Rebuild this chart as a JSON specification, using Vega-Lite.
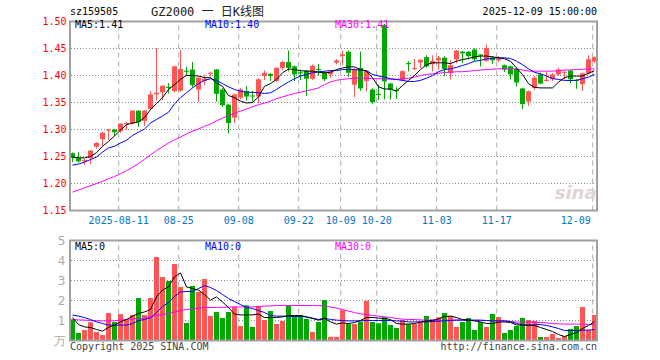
{
"$schema":"https://vega.github.io/schema/vega-lite/v6.json",
"width":527,"height":320,
"autosize":{"type":"none"},
"padding":{"left":70,"top":21,"right":63,"bottom":19},
"background":"white",
"config":{"view":{"stroke":null},"font":"DejaVu Sans Mono","scale":{"continuousPadding":0}},
"datasets":{
"k":[
{"i":0,"o":1.256,"h":1.257,"l":1.240,"c":1.247,"v":1.05,"m5":1.249,"m10":1.234,"m30":1.184,"vm5":1.15,"vm10":1.27,"vm30":1.05},
{"i":1,"o":1.247,"h":1.258,"l":1.239,"c":1.241,"v":0.37,"m5":1.2475,"m10":1.236,"m30":1.188,"vm5":0.8,"vm10":1.22,"vm30":1.03},
{"i":2,"o":1.241,"h":1.245,"l":1.235,"c":1.244,"v":0.52,"m5":1.2475,"m10":1.2395,"m30":1.192,"vm5":0.68,"vm10":1.15,"vm30":1.02},
{"i":3,"o":1.247,"h":1.262,"l":1.236,"c":1.261,"v":0.9,"m5":1.25,"m10":1.2444,"m30":1.196,"vm5":0.65,"vm10":1.05,"vm30":1.0},
{"i":4,"o":1.268,"h":1.276,"l":1.265,"c":1.275,"v":0.42,"m5":1.257,"m10":1.249,"m30":1.2,"vm5":0.55,"vm10":0.93,"vm30":0.99},
{"i":5,"o":1.282,"h":1.295,"l":1.27,"c":1.294,"v":0.27,"m5":1.269,"m10":1.258,"m30":1.204,"vm5":0.47,"vm10":0.85,"vm30":0.98},
{"i":6,"o":1.298,"h":1.3,"l":1.281,"c":1.3,"v":1.37,"m5":1.278,"m10":1.266,"m30":1.209,"vm5":0.65,"vm10":0.77,"vm30":0.98},
{"i":7,"o":1.3,"h":1.3,"l":1.289,"c":1.295,"v":0.92,"m5":1.288,"m10":1.269,"m30":1.213,"vm5":0.77,"vm10":0.77,"vm30":0.99},
{"i":8,"o":1.297,"h":1.311,"l":1.294,"c":1.311,"v":1.32,"m5":1.299,"m10":1.275,"m30":1.218,"vm5":0.93,"vm10":0.77,"vm30":1.02},
{"i":9,"o":1.31,"h":1.313,"l":1.3,"c":1.312,"v":1.02,"m5":1.309,"m10":1.28,"m30":1.224,"vm5":1.05,"vm10":0.77,"vm30":1.05},
{"i":10,"o":1.311,"h":1.335,"l":1.31,"c":1.335,"v":1.27,"m5":1.312,"m10":1.289,"m30":1.23,"vm5":1.22,"vm10":0.85,"vm30":1.08},
{"i":11,"o":1.335,"h":1.335,"l":1.305,"c":1.314,"v":2.12,"m5":1.314,"m10":1.295,"m30":1.237,"vm5":1.35,"vm10":1.0,"vm30":1.1},
{"i":12,"o":1.316,"h":1.335,"l":1.307,"c":1.335,"v":1.27,"m5":1.322,"m10":1.301,"m30":1.245,"vm5":1.43,"vm10":1.05,"vm30":1.13},
{"i":13,"o":1.338,"h":1.371,"l":1.336,"c":1.365,"v":2.12,"m5":1.337,"m10":1.312,"m30":1.253,"vm5":1.55,"vm10":1.13,"vm30":1.18},
{"i":14,"o":1.365,"h":1.451,"l":1.354,"c":1.368,"v":4.17,"m5":1.348,"m10":1.3185,"m30":1.261,"vm5":2.18,"vm10":1.4,"vm30":1.25},
{"i":15,"o":1.369,"h":1.381,"l":1.355,"c":1.381,"v":3.17,"m5":1.359,"m10":1.325,"m30":1.268,"vm5":2.52,"vm10":1.7,"vm30":1.3},
{"i":16,"o":1.379,"h":1.385,"l":1.367,"c":1.377,"v":2.97,"m5":1.374,"m10":1.332,"m30":1.275,"vm5":2.68,"vm10":1.9,"vm30":1.35},
{"i":17,"o":1.371,"h":1.418,"l":1.369,"c":1.417,"v":3.82,"m5":1.383,"m10":1.3475,"m30":1.281,"vm5":3.18,"vm10":2.2,"vm30":1.42},
{"i":18,"o":1.372,"h":1.447,"l":1.37,"c":1.412,"v":2.67,"m5":1.393,"m10":1.359,"m30":1.286,"vm5":3.38,"vm10":2.43,"vm30":1.5},
{"i":19,"o":1.409,"h":1.416,"l":1.4,"c":1.407,"v":0.87,"m5":1.4,"m10":1.368,"m30":1.292,"vm5":2.68,"vm10":2.45,"vm30":1.55},
{"i":20,"o":1.411,"h":1.425,"l":1.378,"c":1.382,"v":2.72,"m5":1.4,"m10":1.377,"m30":1.297,"vm5":2.6,"vm10":2.45,"vm30":1.58},
{"i":21,"o":1.374,"h":1.397,"l":1.351,"c":1.396,"v":2.42,"m5":1.399,"m10":1.385,"m30":1.301,"vm5":2.52,"vm10":2.6,"vm30":1.62},
{"i":22,"o":1.39,"h":1.4,"l":1.382,"c":1.394,"v":3.07,"m5":1.396,"m10":1.391,"m30":1.306,"vm5":2.3,"vm10":2.75,"vm30":1.65},
{"i":23,"o":1.403,"h":1.407,"l":1.398,"c":1.405,"v":1.22,"m5":1.396,"m10":1.394,"m30":1.31,"vm5":2.02,"vm10":2.65,"vm30":1.65},
{"i":24,"o":1.411,"h":1.412,"l":1.352,"c":1.366,"v":1.42,"m5":1.386,"m10":1.391,"m30":1.316,"vm5":2.18,"vm10":2.5,"vm30":1.65},
{"i":25,"o":1.374,"h":1.376,"l":1.342,"c":1.345,"v":1.12,"m5":1.38,"m10":1.385,"m30":1.321,"vm5":1.93,"vm10":2.3,"vm30":1.66},
{"i":26,"o":1.346,"h":1.347,"l":1.293,"c":1.312,"v":1.42,"m5":1.363,"m10":1.379,"m30":1.326,"vm5":1.65,"vm10":2.1,"vm30":1.67},
{"i":27,"o":1.322,"h":1.366,"l":1.312,"c":1.365,"v":1.67,"m5":1.359,"m10":1.374,"m30":1.33,"vm5":1.32,"vm10":1.95,"vm30":1.68},
{"i":28,"o":1.359,"h":1.376,"l":1.356,"c":1.374,"v":0.72,"m5":1.3525,"m10":1.371,"m30":1.334,"vm5":1.28,"vm10":1.8,"vm30":1.68},
{"i":29,"o":1.371,"h":1.38,"l":1.354,"c":1.361,"v":1.75,"m5":1.349,"m10":1.369,"m30":1.338,"vm5":1.28,"vm10":1.65,"vm30":1.68},
{"i":30,"o":1.363,"h":1.371,"l":1.352,"c":1.361,"v":0.67,"m5":1.35,"m10":1.369,"m30":1.342,"vm5":1.28,"vm10":1.6,"vm30":1.68},
{"i":31,"o":1.361,"h":1.394,"l":1.349,"c":1.393,"v":1.7,"m5":1.3605,"m10":1.368,"m30":1.346,"vm5":1.32,"vm10":1.5,"vm30":1.7},
{"i":32,"o":1.399,"h":1.409,"l":1.392,"c":1.405,"v":1.02,"m5":1.38,"m10":1.3667,"m30":1.349,"vm5":1.15,"vm10":1.4,"vm30":1.72},
{"i":33,"o":1.403,"h":1.404,"l":1.39,"c":1.399,"v":1.47,"m5":1.385,"m10":1.368,"m30":1.3525,"vm5":1.15,"vm10":1.25,"vm30":1.73},
{"i":34,"o":1.39,"h":1.415,"l":1.389,"c":1.414,"v":0.82,"m5":1.393,"m10":1.374,"m30":1.357,"vm5":1.15,"vm10":1.22,"vm30":1.75},
{"i":35,"o":1.414,"h":1.427,"l":1.411,"c":1.425,"v":0.97,"m5":1.405,"m10":1.3815,"m30":1.3605,"vm5":1.18,"vm10":1.22,"vm30":1.75},
{"i":36,"o":1.425,"h":1.446,"l":1.408,"c":1.414,"v":1.72,"m5":1.412,"m10":1.388,"m30":1.3636,"vm5":1.25,"vm10":1.2,"vm30":1.75},
{"i":37,"o":1.417,"h":1.418,"l":1.39,"c":1.402,"v":1.22,"m5":1.411,"m10":1.394,"m30":1.3667,"vm5":1.25,"vm10":1.2,"vm30":1.75},
{"i":38,"o":1.406,"h":1.411,"l":1.392,"c":1.404,"v":1.27,"m5":1.409,"m10":1.399,"m30":1.369,"vm5":1.25,"vm10":1.2,"vm30":1.75},
{"i":39,"o":1.409,"h":1.41,"l":1.362,"c":1.394,"v":1.07,"m5":1.408,"m10":1.402,"m30":1.3716,"vm5":1.18,"vm10":1.18,"vm30":1.75},
{"i":40,"o":1.394,"h":1.42,"l":1.392,"c":1.418,"v":0.42,"m5":1.408,"m10":1.405,"m30":1.374,"vm5":1.1,"vm10":1.12,"vm30":1.75},
{"i":41,"o":1.412,"h":1.421,"l":1.4,"c":1.41,"v":0.92,"m5":1.406,"m10":1.407,"m30":1.377,"vm5":1.02,"vm10":1.05,"vm30":1.74},
{"i":42,"o":1.405,"h":1.407,"l":1.39,"c":1.393,"v":2.02,"m5":1.405,"m10":1.408,"m30":1.383,"vm5":1.1,"vm10":1.12,"vm30":1.72},
{"i":43,"o":1.402,"h":1.41,"l":1.396,"c":1.407,"v":0.18,"m5":1.406,"m10":1.409,"m30":1.388,"vm5":0.93,"vm10":1.05,"vm30":1.67},
{"i":44,"o":1.424,"h":1.43,"l":1.421,"c":1.428,"v":0.18,"m5":1.411,"m10":1.409,"m30":1.391,"vm5":0.82,"vm10":1.02,"vm30":1.62},
{"i":45,"o":1.436,"h":1.446,"l":1.42,"c":1.439,"v":1.5,"m5":1.414,"m10":1.411,"m30":1.393,"vm5":0.88,"vm10":1.0,"vm30":1.55},
{"i":46,"o":1.444,"h":1.446,"l":1.398,"c":1.405,"v":0.82,"m5":1.416,"m10":1.411,"m30":1.394,"vm5":0.85,"vm10":0.98,"vm30":1.47},
{"i":47,"o":1.383,"h":1.413,"l":1.36,"c":1.411,"v":0.82,"m5":1.416,"m10":1.411,"m30":1.395,"vm5":0.9,"vm10":0.98,"vm30":1.4},
{"i":48,"o":1.414,"h":1.444,"l":1.372,"c":1.376,"v":0.93,"m5":1.411,"m10":1.41,"m30":1.395,"vm5":1.0,"vm10":0.98,"vm30":1.33},
{"i":49,"o":1.39,"h":1.41,"l":1.371,"c":1.408,"v":1.98,"m5":1.408,"m10":1.409,"m30":1.395,"vm5":1.15,"vm10":1.0,"vm30":1.3},
{"i":50,"o":1.374,"h":1.376,"l":1.348,"c":1.351,"v":0.92,"m5":1.396,"m10":1.402,"m30":1.394,"vm5":1.15,"vm10":1.0,"vm30":1.25},
{"i":51,"o":1.366,"h":1.383,"l":1.355,"c":1.364,"v":0.85,"m5":1.379,"m10":1.399,"m30":1.394,"vm5":1.12,"vm10":1.0,"vm30":1.22},
{"i":52,"o":1.494,"h":1.495,"l":1.356,"c":1.389,"v":1.15,"m5":1.375,"m10":1.397,"m30":1.394,"vm5":1.1,"vm10":1.0,"vm30":1.18},
{"i":53,"o":1.385,"h":1.386,"l":1.356,"c":1.374,"v":0.77,"m5":1.375,"m10":1.394,"m30":1.393,"vm5":1.05,"vm10":1.0,"vm30":1.15},
{"i":54,"o":1.373,"h":1.378,"l":1.357,"c":1.371,"v":0.62,"m5":1.371,"m10":1.3926,"m30":1.393,"vm5":0.85,"vm10":0.98,"vm30":1.1},
{"i":55,"o":1.391,"h":1.409,"l":1.39,"c":1.408,"v":1.02,"m5":1.3815,"m10":1.391,"m30":1.394,"vm5":0.82,"vm10":0.97,"vm30":1.07},
{"i":56,"o":1.423,"h":1.426,"l":1.408,"c":1.421,"v":0.8,"m5":1.391,"m10":1.389,"m30":1.395,"vm5":0.82,"vm10":0.93,"vm30":1.05},
{"i":57,"o":1.412,"h":1.43,"l":1.41,"c":1.414,"v":0.82,"m5":1.4,"m10":1.389,"m30":1.397,"vm5":0.85,"vm10":0.93,"vm30":1.05},
{"i":58,"o":1.424,"h":1.43,"l":1.414,"c":1.429,"v":0.92,"m5":1.411,"m10":1.391,"m30":1.4,"vm5":0.92,"vm10":0.93,"vm30":1.03},
{"i":59,"o":1.434,"h":1.437,"l":1.415,"c":1.417,"v":1.22,"m5":1.42,"m10":1.395,"m30":1.402,"vm5":0.98,"vm10":0.93,"vm30":1.02},
{"i":60,"o":1.421,"h":1.437,"l":1.408,"c":1.427,"v":1.05,"m5":1.4235,"m10":1.4,"m30":1.403,"vm5":1.0,"vm10":0.95,"vm30":1.02},
{"i":61,"o":1.428,"h":1.436,"l":1.411,"c":1.433,"v":1.15,"m5":1.4235,"m10":1.407,"m30":1.404,"vm5":1.08,"vm10":0.97,"vm30":1.02},
{"i":62,"o":1.433,"h":1.435,"l":1.399,"c":1.412,"v":1.37,"m5":1.4235,"m10":1.411,"m30":1.4056,"vm5":1.2,"vm10":0.98,"vm30":1.02},
{"i":63,"o":1.405,"h":1.428,"l":1.393,"c":1.419,"v":1.22,"m5":1.422,"m10":1.4123,"m30":1.406,"vm5":1.22,"vm10":1.0,"vm30":1.02},
{"i":64,"o":1.43,"h":1.447,"l":1.423,"c":1.446,"v":0.67,"m5":1.4265,"m10":1.415,"m30":1.407,"vm5":1.15,"vm10":1.02,"vm30":1.02},
{"i":65,"o":1.444,"h":1.445,"l":1.423,"c":1.441,"v":0.92,"m5":1.4296,"m10":1.4185,"m30":1.407,"vm5":1.05,"vm10":1.02,"vm30":1.02},
{"i":66,"o":1.444,"h":1.445,"l":1.43,"c":1.436,"v":1.12,"m5":1.4315,"m10":1.422,"m30":1.408,"vm5":1.02,"vm10":1.02,"vm30":1.02},
{"i":67,"o":1.448,"h":1.45,"l":1.427,"c":1.43,"v":0.52,"m5":1.4346,"m10":1.4265,"m30":1.409,"vm5":0.98,"vm10":1.02,"vm30":1.0},
{"i":68,"o":1.439,"h":1.439,"l":1.417,"c":1.437,"v":0.92,"m5":1.436,"m10":1.428,"m30":1.41,"vm5":0.93,"vm10":1.02,"vm30":1.0},
{"i":69,"o":1.427,"h":1.457,"l":1.426,"c":1.451,"v":0.67,"m5":1.436,"m10":1.431,"m30":1.411,"vm5":0.85,"vm10":1.0,"vm30":1.0},
{"i":70,"o":1.433,"h":1.436,"l":1.422,"c":1.428,"v":1.32,"m5":1.4346,"m10":1.432,"m30":1.4117,"vm5":0.85,"vm10":0.98,"vm30":1.0},
{"i":71,"o":1.428,"h":1.436,"l":1.425,"c":1.431,"v":1.17,"m5":1.4327,"m10":1.4327,"m30":1.4123,"vm5":0.92,"vm10":0.98,"vm30":1.0},
{"i":72,"o":1.419,"h":1.42,"l":1.407,"c":1.411,"v":0.37,"m5":1.431,"m10":1.4327,"m30":1.4123,"vm5":0.93,"vm10":0.98,"vm30":0.98},
{"i":73,"o":1.417,"h":1.418,"l":1.393,"c":1.402,"v":0.52,"m5":1.4265,"m10":1.4315,"m30":1.4123,"vm5":0.9,"vm10":0.95,"vm30":0.95},
{"i":74,"o":1.412,"h":1.413,"l":1.38,"c":1.387,"v":0.72,"m5":1.414,"m10":1.4265,"m30":1.4123,"vm5":0.78,"vm10":0.85,"vm30":0.92},
{"i":75,"o":1.376,"h":1.377,"l":1.338,"c":1.347,"v":1.12,"m5":1.402,"m10":1.42,"m30":1.41,"vm5":0.77,"vm10":0.78,"vm30":0.92},
{"i":76,"o":1.352,"h":1.372,"l":1.344,"c":1.371,"v":1.02,"m5":1.385,"m10":1.4123,"m30":1.408,"vm5":0.77,"vm10":0.77,"vm30":0.92},
{"i":77,"o":1.377,"h":1.398,"l":1.374,"c":1.396,"v":0.97,"m5":1.378,"m10":1.406,"m30":1.408,"vm5":0.75,"vm10":0.78,"vm30":0.92},
{"i":78,"o":1.402,"h":1.405,"l":1.384,"c":1.385,"v":0.17,"m5":1.377,"m10":1.403,"m30":1.408,"vm5":0.65,"vm10":0.8,"vm30":0.9},
{"i":79,"o":1.39,"h":1.406,"l":1.389,"c":1.392,"v":0.17,"m5":1.377,"m10":1.399,"m30":1.408,"vm5":0.55,"vm10":0.75,"vm30":0.88},
{"i":80,"o":1.393,"h":1.404,"l":1.39,"c":1.402,"v":0.32,"m5":1.377,"m10":1.3945,"m30":1.408,"vm5":0.45,"vm10":0.68,"vm30":0.85},
{"i":81,"o":1.402,"h":1.414,"l":1.4,"c":1.411,"v":0.12,"m5":1.3877,"m10":1.3926,"m30":1.409,"vm5":0.3,"vm10":0.6,"vm30":0.83},
{"i":82,"o":1.405,"h":1.407,"l":1.393,"c":1.407,"v":0.22,"m5":1.396,"m10":1.391,"m30":1.41,"vm5":0.2,"vm10":0.5,"vm30":0.82},
{"i":83,"o":1.409,"h":1.41,"l":1.386,"c":1.393,"v":0.57,"m5":1.399,"m10":1.3907,"m30":1.4105,"vm5":0.3,"vm10":0.5,"vm30":0.82},
{"i":84,"o":1.392,"h":1.393,"l":1.376,"c":1.39,"v":0.72,"m5":1.399,"m10":1.391,"m30":1.411,"vm5":0.4,"vm10":0.5,"vm30":0.82},
{"i":85,"o":1.384,"h":1.405,"l":1.372,"c":1.404,"v":1.67,"m5":1.399,"m10":1.394,"m30":1.4115,"vm5":0.6,"vm10":0.52,"vm30":0.82},
{"i":86,"o":1.404,"h":1.437,"l":1.402,"c":1.43,"v":0.52,"m5":1.404,"m10":1.397,"m30":1.4123,"vm5":0.75,"vm10":0.52,"vm30":0.8},
{"i":87,"o":1.426,"h":1.435,"l":1.423,"c":1.434,"v":1.27,"m5":1.409,"m10":1.402,"m30":1.4123,"vm5":0.95,"vm10":0.55,"vm30":0.8}
],
"t":[
{"g":7.7,"d":"2025-08-11"},{"g":17.7,"d":"08-25"},{"g":27.7,"d":"09-08"},{"g":37.7,"d":"09-22"},{"g":44.7,"d":"10-09"},{"g":50.7,"d":"10-20"},{"g":60.7,"d":"11-03"},{"g":70.7,"d":"11-17"},{"g":86.7,"d":"12-09"}
],
"pg":[{"p":1.2},{"p":1.25},{"p":1.3},{"p":1.35},{"p":1.4},{"p":1.45}],
"vg":[{"q":1},{"q":2},{"q":3},{"q":4}]
},
"layer":[
 {"data":{"name":"k"},"mark":{"type":"rule","strokeWidth":1},
  "encoding":{"x":{"field":"i","type":"quantitative","scale":{"domain":[-0.4167,87.4167],"nice":false,"zero":false,"padding":0},"axis":null},
   "y":{"field":"l","type":"quantitative","scale":{"domain":[1.15,1.5],"range":[189.5,0.5],"nice":false,"zero":false},
    "axis":{"values":[1.15,1.2,1.25,1.3,1.35,1.4,1.45,1.5],"format":".2f","orient":"left","grid":false,"domain":false,"ticks":false,"labelColor":"#ff0000","labelFont":"DejaVu Sans Mono","labelFontSize":10,"labelPadding":4,"labelFlush":false,"labelOverlap":false,"title":null}},
   "y2":{"field":"h"},
   "color":{"condition":{"test":"datum.c >= datum.o","value":"#ff5555"},"value":"#00a800"}}},
 {"data":{"name":"k"},"mark":{"type":"bar","width":5},
  "encoding":{"x":{"field":"i","type":"quantitative","axis":null},
   "y":{"field":"v","type":"quantitative","scale":{"domain":[0,5],"range":[319.5,219.5],"nice":false,"zero":false},
    "axis":{"values":[0,1,2,3,4,5],"orient":"left","grid":false,"domain":false,"ticks":false,"labelColor":"#aaaaaa","labelFont":"DejaVu Sans","labelFontSize":12,"labelPadding":5,"labelFlush":false,"labelOverlap":false,"title":null,"labelExpr":"datum.value == 0 ? '万' : datum.label"}},
   "y2":{"datum":0},
   "color":{"condition":{"test":"datum.c >= datum.o","value":"#ff5555"},"value":"#00a800"}}},
 {"data":{"name":"pg"},"mark":{"type":"rule","color":"#888888","strokeDash":[1,2],"strokeWidth":1},
  "encoding":{"y":{"field":"p","type":"quantitative","scale":{"domain":[1.15,1.5],"range":[189.5,0.5],"nice":false,"zero":false},"axis":null}}},
 {"data":{"name":"vg"},"mark":{"type":"rule","color":"#888888","strokeDash":[1,2],"strokeWidth":1},
  "encoding":{"y":{"field":"q","type":"quantitative","scale":{"domain":[0,5],"range":[319.5,219.5],"nice":false,"zero":false},"axis":null}}},
 {"data":{"name":"t"},"mark":{"type":"rule","color":"#aaaaaa","strokeDash":[5,4],"strokeWidth":1},
  "encoding":{"x":{"field":"g","type":"quantitative","axis":null},
   "y":{"datum":1.15,"type":"quantitative","scale":{"domain":[1.15,1.5],"range":[189.5,0.5],"nice":false,"zero":false},"axis":null},"y2":{"datum":1.5}}},
 {"data":{"name":"t"},"mark":{"type":"rule","color":"#aaaaaa","strokeDash":[5,4],"strokeWidth":1},
  "encoding":{"x":{"field":"g","type":"quantitative","axis":null},
   "y":{"datum":0,"type":"quantitative","scale":{"domain":[0,5],"range":[319.5,219.5],"nice":false,"zero":false},"axis":null},"y2":{"datum":5}}},
 {"data":{"name":"k"},"mark":{"type":"rule","strokeWidth":1},
  "encoding":{"x":{"field":"i","type":"quantitative","axis":null},
   "y":{"field":"l","type":"quantitative","scale":{"domain":[1.15,1.5],"range":[189.5,0.5],"nice":false,"zero":false},"axis":null},"y2":{"field":"h"},
   "color":{"condition":{"test":"datum.c >= datum.o","value":"#ff5555"},"value":"#00a800"}}},
 {"data":{"name":"k"},"mark":{"type":"bar","width":5},
  "encoding":{"x":{"field":"i","type":"quantitative","axis":null},
   "y":{"field":"o","type":"quantitative","scale":{"domain":[1.15,1.5],"range":[189.5,0.5],"nice":false,"zero":false},"axis":null},"y2":{"field":"c"},
   "color":{"condition":{"test":"datum.c >= datum.o","value":"#ff5555"},"value":"#00a800"}}},
 {"data":{"name":"k"},"mark":{"type":"bar","width":5},
  "encoding":{"x":{"field":"i","type":"quantitative","axis":null},
   "y":{"field":"v","type":"quantitative","scale":{"domain":[0,5],"range":[319.5,219.5],"nice":false,"zero":false},"axis":null},"y2":{"datum":0},
   "color":{"condition":{"test":"datum.c >= datum.o","value":"#ff5555"},"value":"#00a800"}}},
 {"data":{"name":"k"},"mark":{"type":"line","color":"#ff00ff","strokeWidth":1},
  "encoding":{"x":{"field":"i","type":"quantitative","axis":null},"y":{"field":"m30","type":"quantitative","scale":{"domain":[1.15,1.5],"range":[189.5,0.5],"nice":false,"zero":false},"axis":null}}},
 {"data":{"name":"k"},"mark":{"type":"line","color":"#0000ff","strokeWidth":1},
  "encoding":{"x":{"field":"i","type":"quantitative","axis":null},"y":{"field":"m10","type":"quantitative","scale":{"domain":[1.15,1.5],"range":[189.5,0.5],"nice":false,"zero":false},"axis":null}}},
 {"data":{"name":"k"},"mark":{"type":"line","color":"#000000","strokeWidth":1},
  "encoding":{"x":{"field":"i","type":"quantitative","axis":null},"y":{"field":"m5","type":"quantitative","scale":{"domain":[1.15,1.5],"range":[189.5,0.5],"nice":false,"zero":false},"axis":null}}},
 {"data":{"name":"k"},"mark":{"type":"line","color":"#ff00ff","strokeWidth":1},
  "encoding":{"x":{"field":"i","type":"quantitative","axis":null},"y":{"field":"vm30","type":"quantitative","scale":{"domain":[0,5],"range":[319.5,219.5],"nice":false,"zero":false},"axis":null}}},
 {"data":{"name":"k"},"mark":{"type":"line","color":"#0000ff","strokeWidth":1},
  "encoding":{"x":{"field":"i","type":"quantitative","axis":null},"y":{"field":"vm10","type":"quantitative","scale":{"domain":[0,5],"range":[319.5,219.5],"nice":false,"zero":false},"axis":null}}},
 {"data":{"name":"k"},"mark":{"type":"line","color":"#000000","strokeWidth":1},
  "encoding":{"x":{"field":"i","type":"quantitative","axis":null},"y":{"field":"vm5","type":"quantitative","scale":{"domain":[0,5],"range":[319.5,219.5],"nice":false,"zero":false},"axis":null}}},
 {"data":{"values":[{}]},"mark":{"type":"rect","filled":false,"color":"#a0a0a0","strokeWidth":2},
  "encoding":{"x":{"datum":-0.4167,"type":"quantitative","axis":null},"x2":{"datum":87.4167},"y":{"datum":1.15,"type":"quantitative","scale":{"domain":[1.15,1.5],"range":[189.5,0.5],"nice":false,"zero":false},"axis":null},"y2":{"datum":1.5}}},
 {"data":{"values":[{}]},"mark":{"type":"rect","filled":false,"color":"#a0a0a0","strokeWidth":2},
  "encoding":{"x":{"datum":-0.4167,"type":"quantitative","axis":null},"x2":{"datum":87.4167},"y":{"datum":0,"type":"quantitative","scale":{"domain":[0,5],"range":[319.5,219.5],"nice":false,"zero":false},"axis":null},"y2":{"datum":5}}},
 {"data":{"name":"t"},"transform":[{"filter":"datum.g < 80"}],"mark":{"type":"text","align":"center","baseline":"middle","fontSize":10,"font":"DejaVu Sans Mono","color":"#0078c8"},
  "encoding":{"x":{"field":"g","type":"quantitative","axis":null},"y":{"datum":1.1305,"type":"quantitative","scale":{"domain":[1.15,1.5],"range":[189.5,0.5],"nice":false,"zero":false},"axis":null},"text":{"field":"d"}}},
 {"data":{"values":[{}]},"mark":{"type":"text","align":"right","baseline":"middle","fontSize":10,"font":"DejaVu Sans Mono","color":"#0078c8","text":"12-09"},
  "encoding":{"x":{"datum":86.4,"type":"quantitative","axis":null},"y":{"datum":1.1305,"type":"quantitative","scale":{"domain":[1.15,1.5],"range":[189.5,0.5],"nice":false,"zero":false},"axis":null}}},
 {"data":{"values":[{}]},"mark":{"type":"text","align":"left","baseline":"middle","fontSize":10,"font":"DejaVu Sans Mono","color":"#000000","text":"sz159505"},
  "encoding":{"x":{"datum":-0.4167,"type":"quantitative","axis":null},"y":{"datum":1.5167,"type":"quantitative","scale":{"domain":[1.15,1.5],"range":[189.5,0.5],"nice":false,"zero":false},"axis":null}}},
 {"data":{"values":[{}]},"mark":{"type":"text","align":"left","baseline":"middle","fontSize":12,"font":"DejaVu Sans Mono, Noto Sans CJK SC","color":"#222222","text":"GZ2000 一 日K线图"},
  "encoding":{"x":{"datum":13.08,"type":"quantitative","axis":null},"y":{"datum":1.5167,"type":"quantitative","scale":{"domain":[1.15,1.5],"range":[189.5,0.5],"nice":false,"zero":false},"axis":null}}},
 {"data":{"values":[{}]},"mark":{"type":"text","align":"right","baseline":"middle","fontSize":10,"font":"DejaVu Sans Mono","color":"#000000","text":"2025-12-09 15:00:00"},
  "encoding":{"x":{"datum":87.4167,"type":"quantitative","axis":null},"y":{"datum":1.5167,"type":"quantitative","scale":{"domain":[1.15,1.5],"range":[189.5,0.5],"nice":false,"zero":false},"axis":null}}},
 {"data":{"values":[{}]},"mark":{"type":"text","align":"left","baseline":"middle","fontSize":10,"font":"DejaVu Sans Mono","color":"#000000","text":"MA5:1.41"},
  "encoding":{"x":{"datum":0.42,"type":"quantitative","axis":null},"y":{"datum":1.4926,"type":"quantitative","scale":{"domain":[1.15,1.5],"range":[189.5,0.5],"nice":false,"zero":false},"axis":null}}},
 {"data":{"values":[{}]},"mark":{"type":"text","align":"left","baseline":"middle","fontSize":10,"font":"DejaVu Sans Mono","color":"#0000ff","text":"MA10:1.40"},
  "encoding":{"x":{"datum":22.08,"type":"quantitative","axis":null},"y":{"datum":1.4926,"type":"quantitative","scale":{"domain":[1.15,1.5],"range":[189.5,0.5],"nice":false,"zero":false},"axis":null}}},
 {"data":{"values":[{}]},"mark":{"type":"text","align":"left","baseline":"middle","fontSize":10,"font":"DejaVu Sans Mono","color":"#ff00ff","text":"MA30:1.41"},
  "encoding":{"x":{"datum":43.75,"type":"quantitative","axis":null},"y":{"datum":1.4926,"type":"quantitative","scale":{"domain":[1.15,1.5],"range":[189.5,0.5],"nice":false,"zero":false},"axis":null}}},
 {"data":{"values":[{}]},"mark":{"type":"text","align":"right","baseline":"middle","fontSize":18,"fontStyle":"italic","fontWeight":"bold","font":"DejaVu Sans","color":"#e2d4d4","text":"sina"},
  "encoding":{"x":{"datum":87.35,"type":"quantitative","axis":null},"y":{"datum":1.18,"type":"quantitative","scale":{"domain":[1.15,1.5],"range":[189.5,0.5],"nice":false,"zero":false},"axis":null}}},
 {"data":{"values":[{}]},"mark":{"type":"text","align":"left","baseline":"middle","fontSize":10,"font":"DejaVu Sans Mono","color":"#000000","text":"MA5:0"},
  "encoding":{"x":{"datum":0.42,"type":"quantitative","axis":null},"y":{"datum":4.69,"type":"quantitative","scale":{"domain":[0,5],"range":[319.5,219.5],"nice":false,"zero":false},"axis":null}}},
 {"data":{"values":[{}]},"mark":{"type":"text","align":"left","baseline":"middle","fontSize":10,"font":"DejaVu Sans Mono","color":"#0000ff","text":"MA10:0"},
  "encoding":{"x":{"datum":22.08,"type":"quantitative","axis":null},"y":{"datum":4.69,"type":"quantitative","scale":{"domain":[0,5],"range":[319.5,219.5],"nice":false,"zero":false},"axis":null}}},
 {"data":{"values":[{}]},"mark":{"type":"text","align":"left","baseline":"middle","fontSize":10,"font":"DejaVu Sans Mono","color":"#ff00ff","text":"MA30:0"},
  "encoding":{"x":{"datum":43.75,"type":"quantitative","axis":null},"y":{"datum":4.69,"type":"quantitative","scale":{"domain":[0,5],"range":[319.5,219.5],"nice":false,"zero":false},"axis":null}}},
 {"data":{"values":[{}]},"mark":{"type":"text","align":"left","baseline":"middle","fontSize":10,"font":"DejaVu Sans Mono","color":"#444444","text":"Copyright 2025 SINA.COM"},
  "encoding":{"x":{"datum":-0.4167,"type":"quantitative","axis":null},"y":{"datum":-0.3,"type":"quantitative","scale":{"domain":[0,5],"range":[319.5,219.5],"nice":false,"zero":false},"axis":null}}},
 {"data":{"values":[{}]},"mark":{"type":"text","align":"right","baseline":"middle","fontSize":10,"font":"DejaVu Sans Mono","color":"#444444","text":"http://finance.sina.com.cn"},
  "encoding":{"x":{"datum":87.4167,"type":"quantitative","axis":null},"y":{"datum":-0.3,"type":"quantitative","scale":{"domain":[0,5],"range":[319.5,219.5],"nice":false,"zero":false},"axis":null}}}
],
"resolve":{"scale":{"y":"independent"},"axis":{"y":"independent"}}
}
